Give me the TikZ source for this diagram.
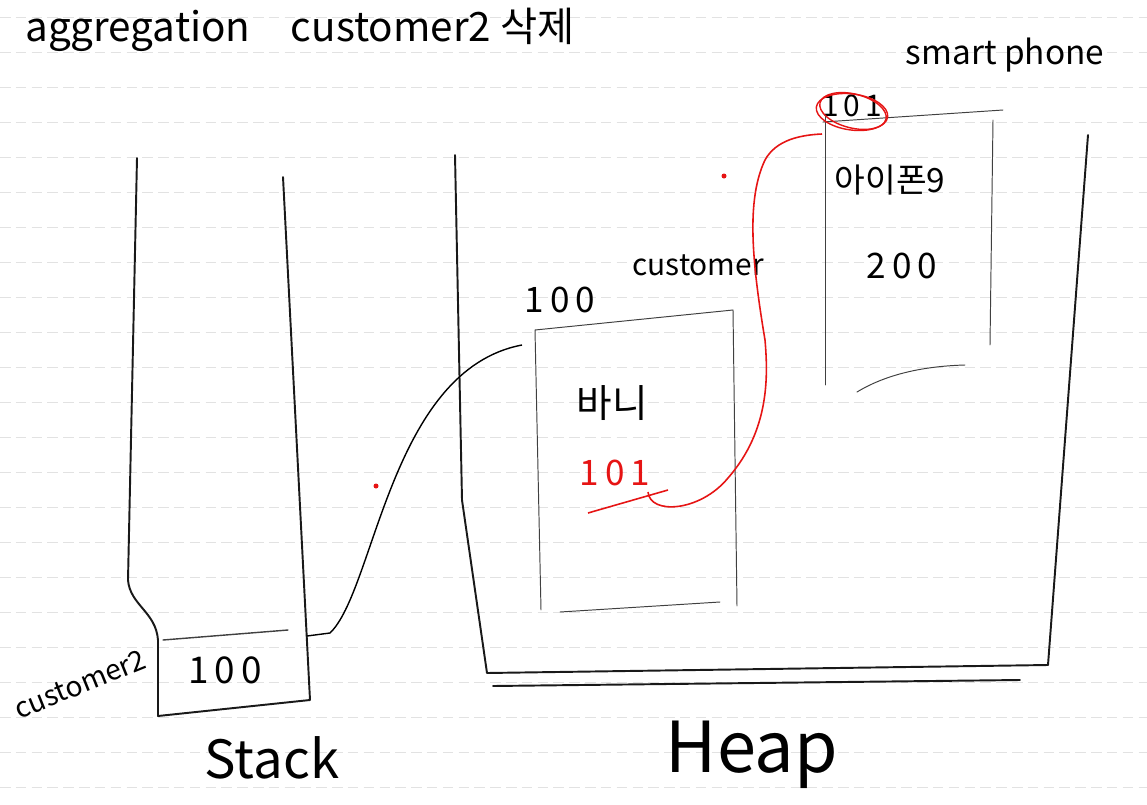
\documentclass[tikz,border=0pt]{standalone}
\usepackage{fontspec}
\setmainfont{Noto Sans CJK KR}
\usetikzlibrary{positioning}
\definecolor{penred}{RGB}{230,20,20}
\definecolor{ruled}{RGB}{226,226,226}

\begin{document}
\begin{tikzpicture}[
    x=0.02cm, y=-0.02cm,
    wall/.style={
        draw=black!90,
        line width=1.1pt,
        line cap=round,
        line join=round
    },
    box/.style={
        draw=black!75,
        line width=0.55pt,
        line cap=round
    },
    ink/.style={
        inner sep=0pt,
        font=\fontsize{17}{19}\selectfont
    },
    redink/.style={
        ink,
        text=penred
    },
    link/.style={
        draw=black,
        line width=0.8pt
    },
    redlink/.style={
        draw=penred,
        line width=0.9pt
    }
]
\useasboundingbox (0,0) rectangle (1147,805);

% Paper
\fill[white] (0,0) rectangle (1147,805);
\foreach \ry in {0,...,22}
    \draw[ruled, dashed, dash pattern=on 6pt off 3pt, line width=0.5pt] (0,17+35*\ry) -- (1147,17+35*\ry);

% Title
\node (title) [ink, font=\fontsize{23}{26}\selectfont, anchor=west] at (25,30) {aggregation\quad customer2 삭제};

% Stack
\draw[wall] (137,158) -- (128,580) .. controls (130,605) and (156,612) .. (158,640) -- (158,716) -- (310,700) -- (283,177);
\draw[box, line width=0.8pt] (163,640) -- (288,630);
\node (val) [ink, font=\fontsize{21}{24}\selectfont] at (225,670) {1\,0\,0};
\node (var) [ink, font=\fontsize{16}{18}\selectfont, rotate=22] at (80,684) {customer2};
\node (stacklbl) [ink, font=\fontsize{30}{32}\selectfont] at (272,758) {Stack};
\coordinate (slot) at (307,636);

% Heap
\draw[wall] (455,155) -- (462,500) -- (487,673) -- (1048,665) -- (1088,135);
\draw[wall] (493,686) -- (1020,680);
\node (heaplbl) [ink, font=\fontsize{40}{42}\selectfont] at (752,755) {Heap};

% Customer object
\draw[box] (541,610) -- (535,330) -- (733,310);
\draw[box] (733,310) -- (737,606);
\draw[box] (560,612) -- (720,602);
\node (addr) [ink, font=\fontsize{20}{22}\selectfont] at (560,300) {1\,0\,0};
\node (custlbl) [ink] at (698,265) {customer};
\node (name) [ink, font=\fontsize{22}{24}\selectfont] at (612,403) {바니};
\node (ref) [redink, font=\fontsize{20}{22}\selectfont] at (615,473) {1\,0\,1};
\draw[redlink] (588,513) -- (668,490);
\coordinate (custin) at (522,345);
\coordinate (refout) at (648,492);

% Smartphone object
\draw[box] (825,385) -- (825,115);
\draw[box] (823,122) -- (1003,110);
\draw[box] (993,120) -- (990,345);
\draw[box] (857,392) .. controls (890,372) and (930,366) .. (965,365);
\node (phonelbl) [ink, font=\fontsize{19}{21}\selectfont] at (1005,55) {smart phone};
\node (phaddr) [ink, font=\fontsize{17}{19}\selectfont] at (852,106) {1\,0\,1};
\draw[penred, line width=0.8pt, rotate around={-8:(852,112)}] (852,112) ellipse (36 and 18);
\draw[penred, line width=0.8pt, rotate around={-14:(853,111)}] (853,111) ellipse (34 and 17);
\node (model) [ink, font=\fontsize{19}{21}\selectfont] at (890,180) {아이폰9};
\node (price) [ink, font=\fontsize{20}{22}\selectfont] at (902,266) {2\,0\,0};
\coordinate (phonein) at (822,134);

% Stray dots
\fill[penred] (724,176) circle (2.5);
\fill[penred] (376,486) circle (2.5);

% Paths
\draw[link] (slot) -- (330,633) .. controls (375,590) and (390,370) .. (custin);
\draw[redlink] (refout) .. controls (650,515) and (700,512) .. (728,478)
    .. controls (770,430) and (768,375) .. (765,340)
    .. controls (752,262) and (746,200) .. (765,160)
    .. controls (776,140) and (800,135) .. (phonein);

\end{tikzpicture}
\end{document}
